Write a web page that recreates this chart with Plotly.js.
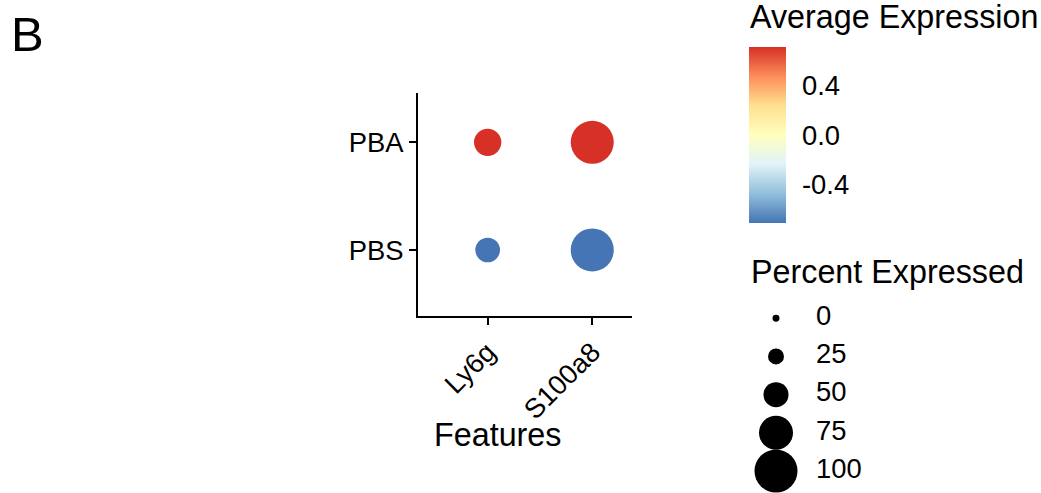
<!DOCTYPE html>
<html>
<head>
<meta charset="utf-8">
<script src="https://cdn.plot.ly/plotly-3.0.1.min.js"></script>
<style>html,body{margin:0;padding:0;background:#fff;}#chart{width:1041px;height:493px;}</style>
</head>
<body>
<div id="chart"></div>
<script>
// ---- data ----
var features = ['Ly6g', 'S100a8'];
var groups = ['PBS', 'PBA'];
var pctExpPBS = [49.2, 100];
var pctExpPBA = [56.4, 100];
var avgExpPBS = [-0.707, -0.707];
var avgExpPBA = [0.707, 0.707];
var legendPct = [0, 25, 50, 75, 100];
var legendLabels = ['0', '25', '50', '75', '100'];
var colorTicks = [-0.4, 0, 0.4];
var colorTickText = ['-0.4', '0.0', '0.4'];

// ---- build ----
var W = 1041, H = 493;
function sizeFor(p) { return 6.94 + 0.361 * p; }
var rdylbu = [[0, '#4575b4'], [1/6, '#91bfdb'], [2/6, '#e0f3f8'], [3/6, '#ffffbf'], [4/6, '#fee090'], [5/6, '#fc8d59'], [1, '#d73027']];

var px = [], py = [], ps = [], pc = [];
var pctByGroup = {PBS: pctExpPBS, PBA: pctExpPBA};
var expByGroup = {PBS: avgExpPBS, PBA: avgExpPBA};
groups.forEach(function (g) {
  features.forEach(function (f, i) {
    px.push(f); py.push(g);
    ps.push(sizeFor(pctByGroup[g][i]));
    pc.push(expByGroup[g][i]);
  });
});

var font = 'Liberation Sans, Arial, sans-serif';
var tickSize = 27.4, titleSize = 32.3;

var dots = {
  type: 'scatter', mode: 'markers', x: px, y: py, xaxis: 'x', yaxis: 'y',
  hoverinfo: 'skip', showlegend: false,
  marker: {
    size: ps, sizemode: 'diameter', color: pc, colorscale: rdylbu, opacity: 1,
    cmin: -0.7071, cmax: 0.7071, line: {width: 0},
    colorbar: {
      x: 749 / W, xanchor: 'left', y: 1 - 135 / H, yanchor: 'middle',
      len: 176, lenmode: 'pixels', thickness: 37, thicknessmode: 'pixels',
      outlinewidth: 0, xpad: 0, ypad: 0,
      tickvals: colorTicks, ticktext: colorTickText,
      ticks: 'outside', ticklen: 11, tickcolor: 'rgba(0,0,0,0)',
      tickfont: {family: font, size: tickSize, color: '#000'}
    }
  }
};

var legDots = {
  type: 'scatter', mode: 'markers', x: legendPct.map(function () { return 0; }), y: legendLabels,
  xaxis: 'x2', yaxis: 'y2', hoverinfo: 'skip', showlegend: false,
  marker: {size: legendPct.map(sizeFor), sizemode: 'diameter', color: '#000', opacity: 1, line: {width: 0}}
};
var legText = {
  type: 'scatter', mode: 'text', x: legendPct.map(function () { return 1; }), y: legendLabels,
  text: legendLabels, textposition: 'middle right',
  xaxis: 'x2', yaxis: 'y2', hoverinfo: 'skip', showlegend: false,
  textfont: {family: font, size: tickSize, color: '#000'}
};

var layout = {
  width: W, height: H,
  margin: {l: 0, r: 0, t: 0, b: 0, autoexpand: false},
  paper_bgcolor: '#fff', plot_bgcolor: '#fff',
  font: {family: font, color: '#000'},
  showlegend: false,
  xaxis: {
    domain: [418 / W, 632 / W], type: 'category', categoryorder: 'array', categoryarray: features,
    range: [-0.666, 1.38], showgrid: false, zeroline: false,
    showline: true, linewidth: 2, linecolor: '#000',
    ticks: 'outside', ticklen: 7, tickwidth: 2, tickcolor: '#000',
    tickangle: -45, tickfont: {family: font, size: tickSize, color: '#000'},
    fixedrange: true, automargin: false
  },
  yaxis: {
    domain: [1 - 316 / H, 1 - 93 / H], type: 'category', categoryorder: 'array', categoryarray: groups,
    range: [-0.613, 1.458], showgrid: false, zeroline: false,
    showline: true, linewidth: 2, linecolor: '#000',
    ticks: 'outside', ticklen: 7, tickwidth: 2, tickcolor: '#000',
    tickfont: {family: font, size: tickSize, color: '#000'},
    fixedrange: true, automargin: false
  },
  xaxis2: {
    domain: [740 / W, 1040 / W], anchor: 'y2', range: [-0.9, 6.6],
    visible: false, fixedrange: true
  },
  yaxis2: {
    domain: [0, 1 - 290 / H], anchor: 'x2', type: 'category', categoryorder: 'array', categoryarray: legendLabels,
    range: [4.576, -0.741], visible: false, fixedrange: true
  },
  annotations: [
    {text: 'B', x: 9 / W, y: 1 - 34 / H, xref: 'paper', yref: 'paper', xanchor: 'left', yanchor: 'middle', showarrow: false, font: {family: font, size: 49, color: '#000'}},
    {text: 'Average Expression', x: 748 / W, y: 1 - 17 / H, xref: 'paper', yref: 'paper', xanchor: 'left', yanchor: 'middle', showarrow: false, font: {family: font, size: titleSize, color: '#000'}},
    {text: 'Percent Expressed', x: 749 / W, y: 1 - 272 / H, xref: 'paper', yref: 'paper', xanchor: 'left', yanchor: 'middle', showarrow: false, font: {family: font, size: titleSize, color: '#000'}},
    {text: 'Features', x: 497.5 / W, y: 1 - 435 / H, xref: 'paper', yref: 'paper', xanchor: 'center', yanchor: 'middle', showarrow: false, font: {family: font, size: titleSize, color: '#000'}}
  ]
};

Plotly.newPlot('chart', [dots, legDots, legText], layout, {staticPlot: true, displayModeBar: false});
</script>
</body>
</html>
